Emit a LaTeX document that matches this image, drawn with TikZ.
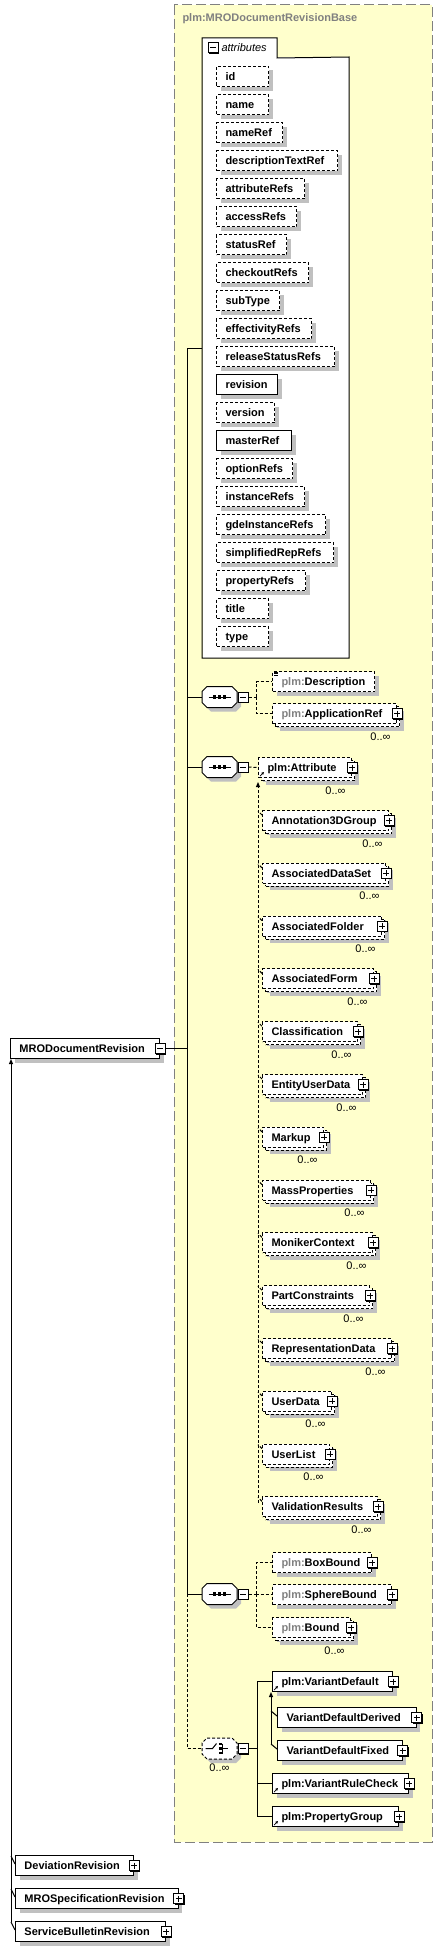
\documentclass[tikz,border=0pt]{standalone}
\usepackage{fontspec}
\setmainfont{Liberation Sans}
\usetikzlibrary{arrows.meta}

\definecolor{basefill}{RGB}{255,255,204}
\definecolor{framegray}{RGB}{128,128,128}
\definecolor{shadowgray}{RGB}{192,192,192}
\definecolor{nsgray}{RGB}{128,128,128}

\newcommand{\plm}{\textcolor{nsgray}{plm:}}
\newcommand{\elemtext}[2]{\makebox[#1pt][l]{\hspace*{9pt}#2}}

\tikzset{
  every node/.style={font=\bfseries\fontsize{11pt}{13pt}\selectfont},
  elem/.style={draw, fill=white, anchor=north west, inner sep=0pt,
    minimum height=20pt, text height=8pt, text depth=0pt,
    preaction={fill=shadowgray, transform canvas={shift={(4pt,-4pt)}}}},
  opt/.style={dash pattern=on 3pt off 2pt},
  many/.style={
    preaction={fill=shadowgray, transform canvas={shift={(7pt,-7pt)}}},
    preaction={draw, opt, fill=white, transform canvas={shift={(3pt,-3pt)}}}},
  occ/.style={font=\fontsize{11pt}{13pt}\selectfont, anchor=north east, inner sep=0pt},
  iconbox/.style={draw, solid, fill=white, minimum size=10pt, inner sep=0pt,
    preaction={fill=black, transform canvas={shift={(1pt,-1pt)}}}},
  minusbox/.style={iconbox, path picture={
    \draw[solid] ([xshift=2pt]path picture bounding box.west) -- ([xshift=-2pt]path picture bounding box.east);}},
  plusbox/.style={iconbox, path picture={
    \draw[solid] ([xshift=2pt]path picture bounding box.west) -- ([xshift=-2pt]path picture bounding box.east)
      ([yshift=-2pt]path picture bounding box.north) -- ([yshift=2pt]path picture bounding box.south);}},
  octagonpath/.style={insert path={++(-17.5,-5.5) -- ++(0,11) -- ++(5,5) -- ++(25,0) -- ++(5,-5)
    -- ++(0,-11) -- ++(-5,-5) -- ++(-25,0) -- cycle}},
  octa/.style={draw, fill=white, preaction={fill=shadowgray, transform canvas={shift={(4pt,-4pt)}}}},
  groupnode/.style={minimum width=35pt, minimum height=21pt, inner sep=0pt},
  seqbox/.style={groupnode, path picture={
    \draw[solid] ([xshift=-11pt]path picture bounding box.center) -- ([xshift=11pt]path picture bounding box.center);
    \foreach \d in {-5,0,5}
      \fill[black] ([xshift=\d pt]path picture bounding box.center) +(-1.6pt,-1.6pt) rectangle +(1.6pt,1.6pt);}},
  choicebox/.style={groupnode, path picture={
    \draw[solid] ([xshift=-14pt]path picture bounding box.center) -- ([xshift=-7pt]path picture bounding box.center)
      -- ([shift={(-3pt,5pt)}]path picture bounding box.center);
    \foreach \d in {-4.5,0,4.5}
      \fill[black] ([shift={(0.5pt,\d pt)}]path picture bounding box.center) +(-1.5pt,-1.3pt) rectangle +(1.5pt,1.3pt);
    \draw[solid] ([shift={(3pt,5pt)}]path picture bounding box.center) -- ([shift={(3pt,-5pt)}]path picture bounding box.center)
      ([shift={(3pt,0pt)}]path picture bounding box.center) -- ([shift={(8pt,0pt)}]path picture bounding box.center);}},
  tip/.style={-{Triangle[length=5pt,width=4pt]}},
  refarrow/.style={solid, line width=0.7pt, -{Triangle[length=2.5pt,width=2.5pt]}}
}

\begin{document}
\begin{tikzpicture}[x=1pt, y=-1pt, line width=1pt]
\useasboundingbox (0,0) rectangle (443,1951);

% base type
\draw[fill=basefill, draw=framegray, dash pattern=on 10pt off 4pt] (174,5) rectangle (432,1842);
\node[anchor=west, text=nsgray, inner sep=0pt] (baseTitle) at (182,19) {plm:MRODocumentRevisionBase};

% attributes
\node[fill=white, anchor=north west, minimum width=146pt, minimum height=600pt, inner sep=0pt] (attrs) at (202,57) {};
\node[fill=white, anchor=north west, minimum width=74pt, minimum height=19pt, inner sep=0pt] (attrtab) at (202,38) {};
\draw (attrs.south west) -- (attrtab.north west) -- (attrtab.north east) -- (attrtab.south east)
  -- (attrs.north east) -- (attrs.south east) -- cycle;
\node[minusbox] (attrtabM) at (213,48) {};
\node[anchor=west, inner sep=0pt, font=\itshape\fontsize{11pt}{13pt}\selectfont] (attrtabT) at (221,48) {attributes};
\foreach \n/\w/\s [count=\i from 0] in {id/52/opt, name/52/opt, nameRef/66/opt,
    descriptionTextRef/121/opt, attributeRefs/88/opt, accessRefs/80/opt, statusRef/70/opt,
    checkoutRefs/92/opt, subType/63/opt, effectivityRefs/95/opt, releaseStatusRefs/118/opt,
    revision/61/solid, version/58/opt, masterRef/75/solid, optionRefs/76/opt,
    instanceRefs/88/opt, gdeInstanceRefs/109/opt, simplifiedRepRefs/117/opt,
    propertyRefs/89/opt, title/52/opt, type/52/opt}
  \node[elem, \s] (a-\n) at (216,66+28*\i) {\elemtext{\w}{\n}};

% the element
\node[elem] (mrodoc) at (10,1038) {\elemtext{149}{MRODocumentRevision}};
\node[minusbox] (mrodocM) at (mrodoc.east) {};

% model groups
\path[octa] (219.5,697) [octagonpath];
\node[seqbox] (seqA) at (219.5,697) {};
\node[minusbox, anchor=west] (seqAM) at (seqA.east) {};
\path[octa] (219.5,767) [octagonpath];
\node[seqbox] (seqB) at (219.5,767) {};
\node[minusbox, anchor=west] (seqBM) at (seqB.east) {};
\path[octa] (219.5,1594) [octagonpath];
\node[seqbox] (seqC) at (219.5,1594) {};
\node[minusbox, anchor=west] (seqCM) at (seqC.east) {};
\path[octa, opt] (219.5,1748.5) [octagonpath];
\node[choicebox] (choice) at (219.5,1748.5) {};
\node[minusbox, anchor=west] (choiceM) at (choice.east) {};
\node[occ, anchor=north] (choice-o) at ([yshift=-4pt]choice.south) {0..∞};

\coordinate (trunkTop) at (187,348);
\coordinate (trunkSplit) at (187,1594);
\coordinate (trunkEnd) at (187,1748.5);
\draw (mrodocM.east) -- (trunkTop |- mrodocM.east);
\draw (trunkTop) -- (trunkSplit);
\draw[opt] (trunkSplit) -- (trunkEnd) -- (choice.west);
\draw (trunkTop) -- (trunkTop -| attrs.west);
\draw (trunkTop |- seqA) -- (seqA.west);
\draw (trunkTop |- seqB) -- (seqB.west);
\draw (trunkSplit) -- (seqC.west);

% first sequence
\node[elem, opt] (descr) at (272,671) {\elemtext{102}{\plm Description}};
\foreach \k in {1,2.5,4}
  \draw[solid, line width=0.5pt] ([shift={(2,\k)}]descr.north west) -- ++(4,0);
\node[elem, opt, many] (appref) at (272,703) {\elemtext{124}{\plm ApplicationRef}};
\node[plusbox] (appref-p) at (appref.east) {};
\node[occ] (appref-o) at ([xshift=-6pt,yshift=-8pt]appref.south east) {0..∞};
\coordinate (forkA) at (256,697);
\draw[opt] (seqAM.east) -- (forkA);
\draw[opt] (forkA) |- (descr.west);
\draw[opt] (forkA) |- (appref.west);

% second sequence
\node[elem, opt, many] (attribute) at (258,757) {\elemtext{93}{plm:Attribute}};
\node[plusbox] (attribute-p) at (attribute.east) {};
\node[occ] (attribute-o) at ([xshift=-6pt,yshift=-8pt]attribute.south east) {0..∞};
\draw[refarrow] ([shift={(2,-2)}]attribute.south west) -- ++(4,-4);
\draw[opt] (seqBM.east) -- (attribute.west);
\foreach \n/\r [count=\i from 0] in {Annotation3DGroup/388, AssociatedDataSet/385,
    AssociatedFolder/381, AssociatedForm/373, Classification/357, EntityUserData/362,
    Markup/323, MassProperties/370, MonikerContext/372, PartConstraints/369,
    RepresentationData/391, UserData/331, UserList/329, ValidationResults/377}{
  \pgfmathsetmacro{\w}{\r-262}
  \node[elem, opt, many] (\n) at (262,810+52.8*\i) {\elemtext{\w}{\n}};
  \node[plusbox] (\n-p) at (\n.east) {};
  \node[occ] (\n-o) at ([xshift=-6pt,yshift=-8pt]\n.south east) {0..∞};
  \draw[opt] ([yshift=-5pt]\n.north west) -- ++(-4,-4);
}
\coordinate (attrStem) at (258,1503);
\draw[opt, tip] (attrStem) -- ([yshift=-4pt]attribute.south west);

% third sequence
\node[elem, opt] (boxbound) at (272,1552) {\elemtext{99}{\plm BoxBound}};
\node[plusbox] (boxbound-p) at (boxbound.east) {};
\node[elem, opt] (spherebound) at (272,1584) {\elemtext{119}{\plm SphereBound}};
\node[plusbox] (spherebound-p) at (spherebound.east) {};
\node[elem, opt, many] (bound) at (272,1617) {\elemtext{78}{\plm Bound}};
\node[plusbox] (bound-p) at (bound.east) {};
\node[occ] (bound-o) at ([xshift=-6pt,yshift=-8pt]bound.south east) {0..∞};
\coordinate (forkC) at (256,1594);
\draw[opt] (seqCM.east) -- (forkC);
\draw[opt] (forkC) |- (boxbound.west);
\draw[opt] (forkC) |- (spherebound.west);
\draw[opt] (forkC) |- (bound.west);

% choice
\node[elem] (vdefault) at (272,1671) {\elemtext{120}{plm:VariantDefault}};
\node[plusbox] (vdefault-p) at (vdefault.east) {};
\draw[refarrow] ([shift={(2,-2)}]vdefault.south west) -- ++(4,-4);
\node[elem] (vdderived) at (277,1707) {\elemtext{138.5}{VariantDefaultDerived}};
\node[plusbox] (vdderived-p) at (vdderived.east) {};
\node[elem] (vdfixed) at (277,1740) {\elemtext{124.5}{VariantDefaultFixed}};
\node[plusbox] (vdfixed-p) at (vdfixed.east) {};
\node[elem] (vrulecheck) at (272,1773) {\elemtext{136}{plm:VariantRuleCheck}};
\node[plusbox] (vrulecheck-p) at (vrulecheck.east) {};
\draw[refarrow] ([shift={(2,-2)}]vrulecheck.south west) -- ++(4,-4);
\node[elem] (propgroup) at (272,1806) {\elemtext{126}{plm:PropertyGroup}};
\node[plusbox] (propgroup-p) at (propgroup.east) {};
\draw[refarrow] ([shift={(2,-2)}]propgroup.south west) -- ++(4,-4);
\coordinate (forkD) at (257,1748.5);
\draw (choiceM.east) -- (forkD);
\draw (forkD) |- (vdefault.west);
\draw (forkD) |- (vrulecheck.west);
\draw (forkD) |- (propgroup.west);
\coordinate (vdStem) at (271,1745);
\draw[tip] (vdStem) -- (vdStem |- vdefault.south);
\draw ([yshift=-9pt]vdderived.north west) -- ++(-6,-5);
\draw ([yshift=-9pt]vdfixed.north west) -- ++(-6,-5);

% derived types
\node[elem] (devrev) at (15,1855) {\elemtext{118}{DeviationRevision}};
\node[plusbox] (devrev-p) at (devrev.east) {};
\node[elem] (mrospec) at (15,1888) {\elemtext{162.5}{MROSpecificationRevision}};
\node[plusbox] (mrospec-p) at (mrospec.east) {};
\node[elem] (sbrev) at (15,1921) {\elemtext{150}{ServiceBulletinRevision}};
\node[plusbox] (sbrev-p) at (sbrev.east) {};
\coordinate (derivStem) at (11,1922);
\draw[tip] (derivStem) -- (derivStem |- mrodoc.south);
\foreach \n in {devrev, mrospec, sbrev}
  \draw ([yshift=-9pt]\n.north west) -- ++(-4,-8);
\end{tikzpicture}
\end{document}
